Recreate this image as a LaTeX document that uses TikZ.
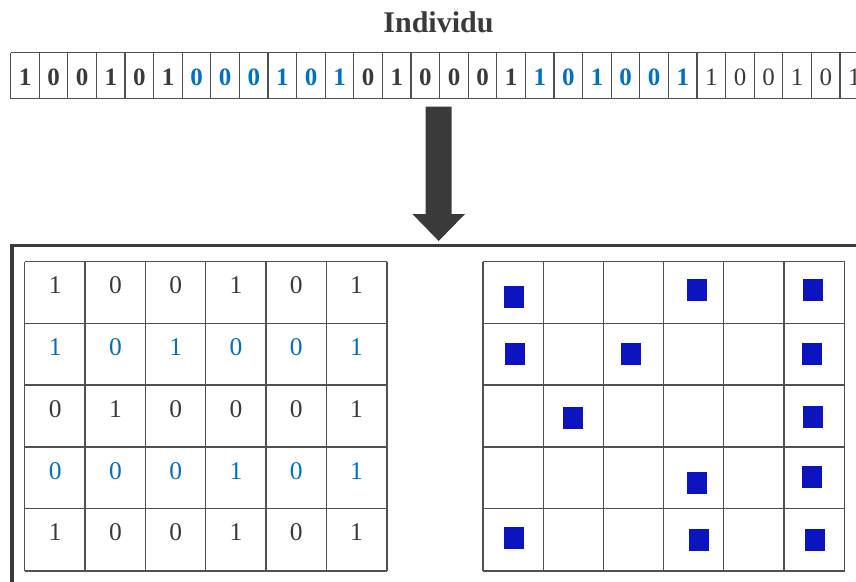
\documentclass[tikz,border=0pt]{standalone}
\usepackage{fontspec}
\setmainfont{Liberation Serif}
\definecolor{txt}{HTML}{3A3A3A}
\definecolor{bl}{HTML}{0070C0}
\definecolor{sq}{RGB}{12,20,192}
\definecolor{ln}{HTML}{505050}
\newcommand\bitbold{\fontsize{25}{30}\selectfont\bfseries}
\newcommand\bitreg{\fontsize{25}{30}\selectfont}
\newcommand\gridfont{\fontsize{25.5}{30}\selectfont}
\begin{document}
\begin{tikzpicture}[x=1pt,y=-1pt,
  cellT/.style={minimum width=28.6pt,minimum height=45.6pt,inner sep=0pt},
  gcell/.style={minimum width=60.28pt,minimum height=61.8pt,inner sep=0pt},
  rcell/.style={minimum width=60.17pt,minimum height=61.8pt,inner sep=0pt},
  gline/.style={draw=ln,line width=1.3pt},
  digit/.style={inner sep=0pt,anchor=center},
  genebox/.style={fill=sq,minimum width=20pt,minimum height=22pt,inner sep=0pt},
  frame/.style={draw=txt,line width=3.2pt},
  title/.style={inner sep=0pt,text=txt,font=\fontsize{30}{36}\selectfont\bfseries}]
\useasboundingbox (0,0) rectangle (856,581);
% title
\node[title] (title) at (438.5,22) {Individu};
% chromosome row
\foreach \b [count=\i] in {1,0,0,1,0,1, 0,0,0,1,0,1, 0,1,0,0,0,1, 1,0,1,0,0,1, 1,0,0,1,0,1}{
  \pgfmathtruncatemacro\g{int((\i-1)/6)}
  \ifcase\g \def\tc{txt}\def\tf{\bitbold}\or \def\tc{bl}\def\tf{\bitbold}\or
    \def\tc{txt}\def\tf{\bitbold}\or \def\tc{bl}\def\tf{\bitbold}\or
    \def\tc{txt}\def\tf{\bitreg}\fi
  \node[cellT] (t\i) at ({10.7+28.6*(\i-0.5)},75.5) {};
  \node[digit,text=\tc,font=\tf] (d\i) at ({10.7+28.6*(\i-0.5)},77) {\b};
  \draw[gline,line width=1.2pt] (t\i.north west) -- (t\i.south west);
}
\draw[gline,line width=1.2pt] (t1.north west) -- (t30.north east);
\draw[gline,line width=1.2pt] (t1.south west) -- (t30.south east);
% arrow
\coordinate (a1) at (425.7,106.7);
\coordinate (a2) at (451.7,106.7);
\coordinate (a3) at (451.7,214);
\coordinate (a4) at (465,214);
\coordinate (a5) at (438.7,241);
\coordinate (a6) at (412.4,214);
\coordinate (a7) at (425.7,214);
\fill[txt] (a1) -- (a2) -- (a3) -- (a4) -- (a5) -- (a6) -- (a7) -- cycle;
% frame
\coordinate (fa) at (12,600);
\coordinate (fb) at (12,245.5);
\coordinate (fc) at (880,245.5);
\draw[frame] (fa) -- (fb) -- (fc);
% left grid
\foreach \row [count=\r] in {{1,0,0,1,0,1},{1,0,1,0,0,1},{0,1,0,0,0,1},{0,0,0,1,0,1},{1,0,0,1,0,1}}{
  \ifodd\r \def\tc{txt}\else \def\tc{bl}\fi
  \foreach \v [count=\c] in \row {
    \node[gcell] (L\r\c) at ({25+60.28*(\c-0.5)},{261.7+61.8*(\r-0.5)}) {};
    \node[digit,text=\tc,font=\gridfont] (Lt\r\c) at ({25+60.28*(\c-0.5)},{261.7+61.8*(\r-1)+23.6}) {\v};
  }
}
\foreach \c in {1,...,6}{\draw[gline] (L1\c.north west) -- (L5\c.south west);}
\draw[gline] (L16.north east) -- (L56.south east);
\foreach \r in {1,...,5}{\draw[gline] (L\r1.north west) -- (L\r6.north east);}
\draw[gline] (L51.south west) -- (L56.south east);
% right grid
\foreach \r in {1,...,5}{
  \foreach \c in {1,...,6}{
    \node[rcell] (R\r\c) at ({483.3+60.17*(\c-0.5)},{261.7+61.8*(\r-0.5)}) {};
  }
}
\foreach \c in {1,...,6}{\draw[gline] (R1\c.north west) -- (R5\c.south west);}
\draw[gline] (R16.north east) -- (R56.south east);
\foreach \r in {1,...,5}{\draw[gline] (R\r1.north west) -- (R\r6.north east);}
\draw[gline] (R51.south west) -- (R56.south east);
% filled genes
\node[genebox] (m11) at (514.3,297.3) {};
\node[genebox] (m14) at (696.7,290) {};
\node[genebox] (m16) at (812.7,290) {};
\node[genebox] (m21) at (515,354.3) {};
\node[genebox] (m23) at (631,354.3) {};
\node[genebox] (m26) at (811.7,354.3) {};
\node[genebox] (m32) at (572.7,417.7) {};
\node[genebox] (m36) at (812.7,416.7) {};
\node[genebox] (m44) at (697.3,482.7) {};
\node[genebox] (m46) at (811.7,477.3) {};
\node[genebox] (m51) at (514.3,538.3) {};
\node[genebox] (m54) at (699,540) {};
\node[genebox] (m56) at (814.7,540) {};
\end{tikzpicture}
\end{document}
